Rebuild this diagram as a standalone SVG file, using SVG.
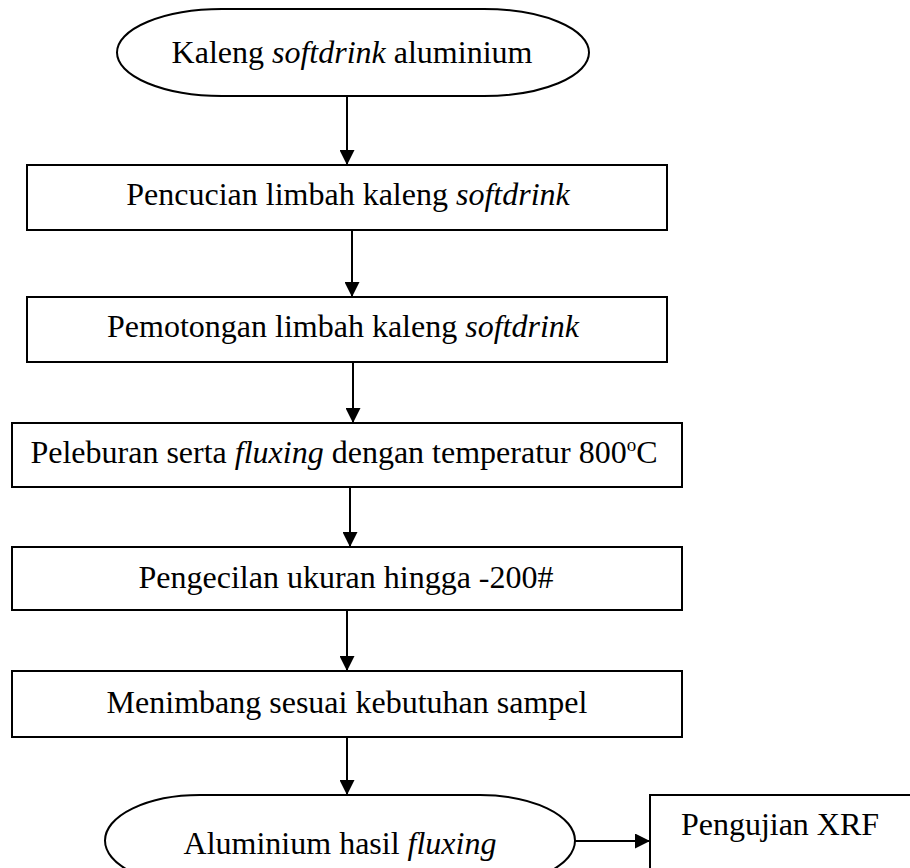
<svg xmlns="http://www.w3.org/2000/svg" width="910" height="868" viewBox="0 0 910 868">
<defs>
<marker id="ah" markerWidth="15" markerHeight="15" refX="15" refY="7.5" orient="auto" markerUnits="userSpaceOnUse" viewBox="0 0 15 15">
<path d="M0,0 L15,7.5 L0,15 z" fill="#000"/>
</marker>
<style>
.s{fill:#fff;stroke:#000;stroke-width:2}
.t{font-family:"Liberation Serif","Times New Roman",serif;font-size:32px;fill:#000;text-anchor:middle}
.i{font-style:italic}
.c{stroke:#000;stroke-width:2;fill:none;marker-end:url(#ah)}
</style>
</defs>
<rect width="910" height="868" fill="#fff"/>
<g id="connectors">
<line class="c" x1="347" y1="96" x2="347" y2="165"/>
<line class="c" x1="352" y1="230" x2="352" y2="297"/>
<line class="c" x1="353" y1="362" x2="353" y2="423"/>
<line class="c" x1="350" y1="487" x2="350" y2="547"/>
<line class="c" x1="347" y1="610" x2="347" y2="671"/>
<line class="c" x1="347" y1="737" x2="347" y2="795"/>
<line class="c" x1="575" y1="841" x2="650" y2="841"/>
</g>
<g id="n1">
<rect class="s" x="117" y="9" width="472" height="87" rx="105" ry="43.5"/>
<text class="t" x="352" y="63">Kaleng <tspan class="i">softdrink</tspan> aluminium</text>
</g>
<g id="n2">
<rect class="s" x="27" y="165" width="640" height="65"/>
<text class="t" x="348" y="205">Pencucian limbah kaleng <tspan class="i">softdrink</tspan></text>
</g>
<g id="n3">
<rect class="s" x="27" y="297" width="640" height="65"/>
<text class="t" x="343" y="337">Pemotongan limbah kaleng <tspan class="i">softdrink</tspan></text>
</g>
<g id="n4">
<rect class="s" x="12" y="423" width="670" height="64"/>
<text class="t" x="344" y="463">Peleburan serta <tspan class="i">fluxing</tspan> dengan temperatur 800<tspan font-size="19" dy="-12">o</tspan><tspan dy="12">C</tspan></text>
</g>
<g id="n5">
<rect class="s" x="12" y="547" width="670" height="63"/>
<text class="t" x="346" y="588">Pengecilan ukuran hingga -200#</text>
</g>
<g id="n6">
<rect class="s" x="12" y="671" width="670" height="66"/>
<text class="t" x="347" y="713">Menimbang sesuai kebutuhan sampel</text>
</g>
<g id="n7">
<rect class="s" x="105" y="795" width="470" height="91" rx="95" ry="45.5"/>
<text class="t" x="340" y="854">Aluminium hasil <tspan class="i">fluxing</tspan></text>
</g>
<g id="n8">
<rect class="s" x="650" y="795" width="280" height="100"/>
<text class="t" x="780" y="835">Pengujian XRF</text>
</g>
</svg>
